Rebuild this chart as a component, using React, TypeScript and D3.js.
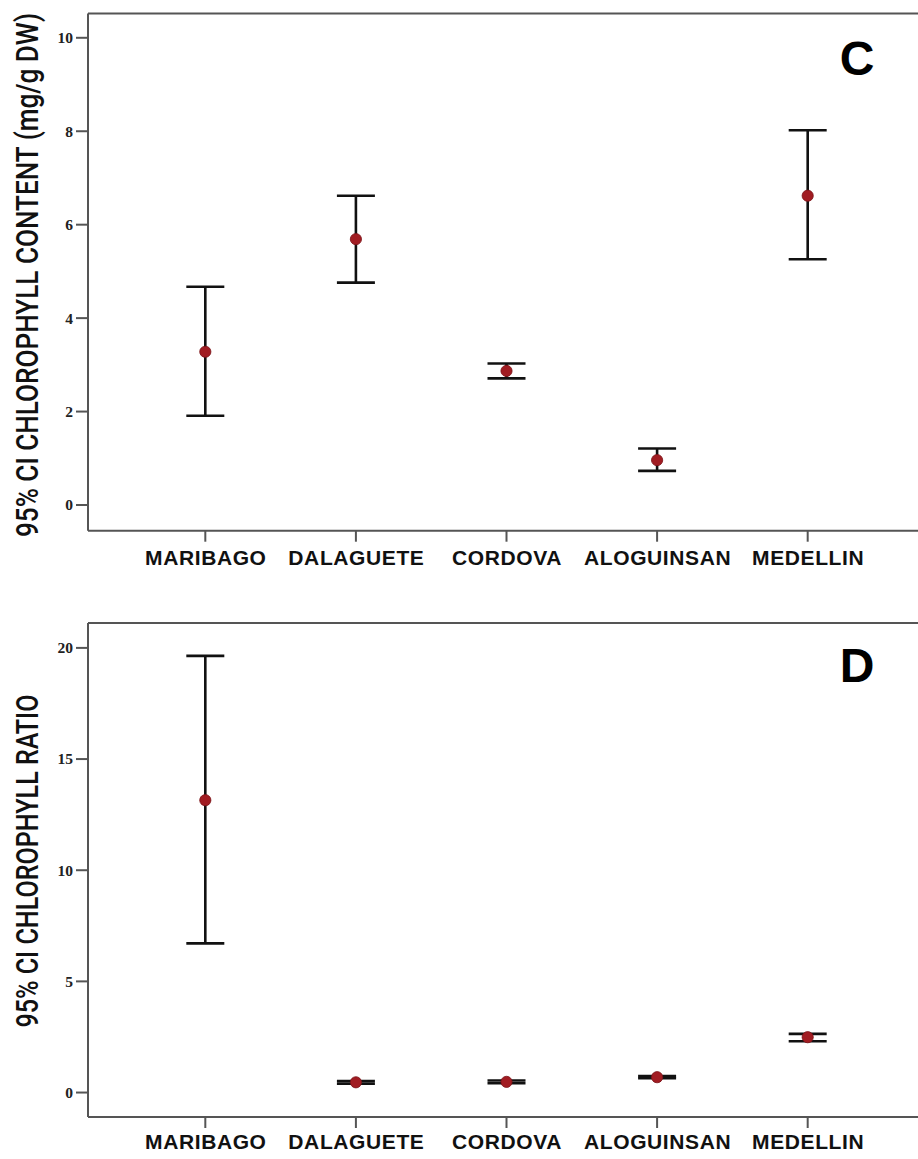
import React from "react";
import * as d3 from "d3";

const categories = ["MARIBAGO", "DALAGUETE", "CORDOVA", "ALOGUINSAN", "MEDELLIN"];

// Panel C: chlorophyll content (mg/g DW)
const contentMean = [3.28, 5.69, 2.87, 0.96, 6.62];
const contentLower = [1.91, 4.76, 2.71, 0.73, 5.26];
const contentUpper = [4.67, 6.62, 3.03, 1.21, 8.02];
const contentTicks = [0, 2, 4, 6, 8, 10];

// Panel D: chlorophyll ratio
const ratioMean = [13.15, 0.46, 0.48, 0.69, 2.49];
const ratioLower = [6.71, 0.4, 0.42, 0.64, 2.31];
const ratioUpper = [19.64, 0.52, 0.54, 0.74, 2.64];
const ratioTicks = [0, 5, 10, 15, 20];

const W = 918;
const H = 1159;
const AXIS = "#555";
const DOT = "#a11c22";

interface PanelProps {
  top: number;
  bottom: number;
  yDomain: [number, number];
  ticks: number[];
  mean: number[];
  lower: number[];
  upper: number[];
  title: string;
  titleLen: number;
  titleCenter: number;
  letter: string;
  letterY: number;
  labelDy: number;
}

function Panel(p: PanelProps) {
  const left = 88;
  const right = 925;
  const x = d3.scalePoint<string>().domain(categories).range([left, right]).padding(0.779);
  const y = d3.scaleLinear().domain(p.yDomain).range([p.bottom, p.top]);
  const cap = 19;
  return (
    <g>
      {/* frame */}
      <line x1={left} x2={W} y1={p.top} y2={p.top} stroke={AXIS} strokeWidth={2} />
      <line x1={left} x2={W} y1={p.bottom} y2={p.bottom} stroke={AXIS} strokeWidth={2} />
      <line x1={left} x2={left} y1={p.top} y2={p.bottom} stroke={AXIS} strokeWidth={2} />
      {/* y ticks */}
      {p.ticks.map((t) => (
        <g key={t}>
          <line x1={left - 12} x2={left} y1={y(t)} y2={y(t)} stroke={AXIS} strokeWidth={2} />
          <text
            x={left - 15}
            y={y(t)}
            dy="0.35em"
            textAnchor="end"
            fontFamily="'Liberation Serif', 'DejaVu Serif', serif"
            fontWeight="bold"
            fontSize={15.5}
            fill="#222"
          >
            {t}
          </text>
        </g>
      ))}
      {/* x ticks */}
      {categories.map((c) => (
        <g key={c}>
          <line x1={x(c)!} x2={x(c)!} y1={p.bottom} y2={p.bottom + 11} stroke={AXIS} strokeWidth={2} />
          <text
            x={x(c)! + 0.5}
            y={p.bottom + p.labelDy}
            textAnchor="middle"
            fontFamily="'Liberation Sans', Arial, sans-serif"
            fontWeight="bold"
            fontSize={21}
            letterSpacing={0.6}
            fill="#111"
          >
            {c}
          </text>
        </g>
      ))}
      {/* error bars */}
      {categories.map((c, i) => {
        const cx = x(c)!;
        return (
          <g key={c} stroke="#111" strokeWidth={2.6}>
            <line x1={cx} x2={cx} y1={y(p.upper[i])} y2={y(p.lower[i])} />
            <line x1={cx - cap} x2={cx + cap} y1={y(p.upper[i])} y2={y(p.upper[i])} />
            <line x1={cx - cap} x2={cx + cap} y1={y(p.lower[i])} y2={y(p.lower[i])} />
          </g>
        );
      })}
      {categories.map((c, i) => (
        <circle key={c} cx={x(c)!} cy={y(p.mean[i])} r={5.6} fill={DOT} stroke="#7a1216" strokeWidth={0.8} />
      ))}
      {/* y title */}
      <text
        transform={`translate(38, ${p.titleCenter}) rotate(-90)`}
        textAnchor="middle"
        fontFamily="Roboto, 'Noto Sans', sans-serif"
        fontWeight={500}
        fontSize={31}
        textLength={p.titleLen}
        lengthAdjust="spacingAndGlyphs"
        fill="#111"
      >
        {p.title}
      </text>
      {/* panel letter */}
      <text
        x={857}
        y={p.letterY}
        textAnchor="middle"
        fontFamily="'Liberation Sans', Arial, sans-serif"
        fontWeight="bold"
        fontSize={48}
        fill="#000"
      >
        {p.letter}
      </text>
    </g>
  );
}

export default function App() {
  return (
    <svg
      width={W}
      height={H}
      style={{ position: "absolute", left: 0, top: 0, background: "#fff" }}
    >
      <rect width={W} height={H} fill="#fff" />
      <Panel
        top={13.5}
        bottom={530.7}
        yDomain={[-0.55, 10.52]}
        ticks={contentTicks}
        mean={contentMean}
        lower={contentLower}
        upper={contentUpper}
        title="95% CI CHLOROPHYLL CONTENT (mg/g DW)"
        titleLen={524}
        titleCenter={275}
        letter="C"
        letterY={75}
        labelDy={34}
      />
      <Panel
        top={623}
        bottom={1117}
        yDomain={[-1.1, 21.12]}
        ticks={ratioTicks}
        mean={ratioMean}
        lower={ratioLower}
        upper={ratioUpper}
        title="95% CI CHLOROPHYLL RATIO"
        titleLen={333}
        titleCenter={861}
        letter="D"
        letterY={682}
        labelDy={32}
      />
    </svg>
  );
}
